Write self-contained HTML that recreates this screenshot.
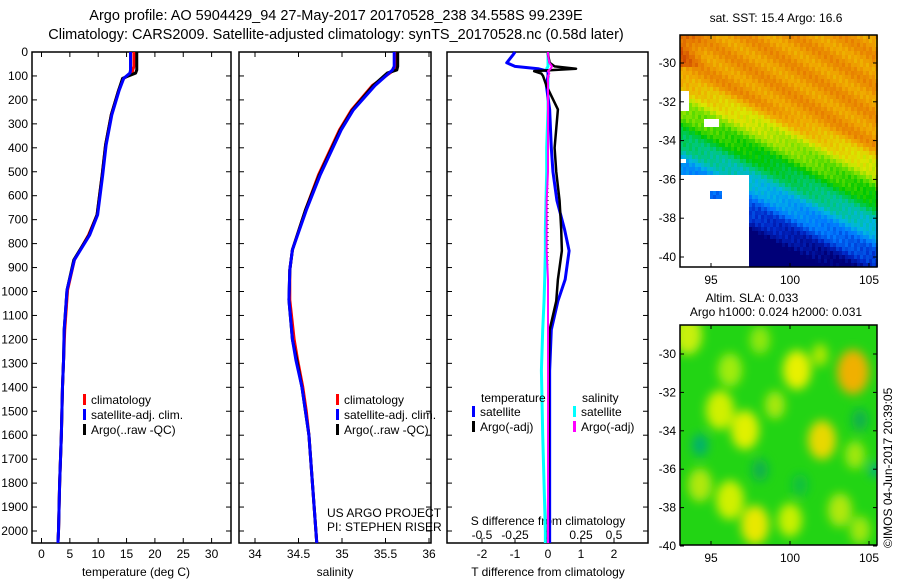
<!DOCTYPE html>
<html><head><meta charset="utf-8"><style>
body{margin:0;background:#fff}
svg text{font-family:"Liberation Sans",sans-serif;font-size:12px;fill:#000}
svg text.ttl{font-size:14.5px}
</style></head><body>
<svg id="s" width="900" height="580" xmlns="http://www.w3.org/2000/svg">
<defs><filter id="bl"><feGaussianBlur stdDeviation="5"/></filter>
<clipPath id="c2"><rect x="680" y="325" width="197" height="220"/></clipPath></defs>
<text class="ttl" x="336" y="20" text-anchor="middle">Argo profile: AO 5904429_94 27-May-2017 20170528_238 34.558S 99.239E</text>
<text class="ttl" x="336" y="39" text-anchor="middle">Climatology: CARS2009. Satellite-adjusted climatology: synTS_20170528.nc (0.58d later)</text>
<g id="g"></g>
<text x="776" y="22" text-anchor="middle">sat. SST: 15.4 Argo: 16.6</text>
<text x="752" y="302" text-anchor="middle">Altim. SLA: 0.033</text>
<text x="776" y="316" text-anchor="middle">Argo h1000: 0.024 h2000: 0.031</text>
<text transform="translate(892,548) rotate(-90)">©IMOS 04-Jun-2017 20:39:05</text>
<text x="327" y="517">US ARGO PROJECT</text>
<text x="327" y="531">PI: STEPHEN RISER</text>
</svg>
<script>
const depths=[0,60,75,88,110,160,263,388,513,680,764,868,994,1160,1280,1400,1500,1600,1800,2000,2050];
const tempClim=[16.3,16.3,16.1,16.0,14.5,13.6,12.3,11.3,10.7,9.8,8.3,5.8,4.6,4.1,3.9,3.7,3.6,3.5,3.2,3.0,2.9];
const tempSat=[15.7,15.7,15.7,15.6,14.5,13.7,12.4,11.4,10.8,9.9,8.5,5.8,4.5,4.0,3.9,3.7,3.6,3.5,3.2,3.0,2.9];
const tempArgo=[16.8,16.8,16.8,16.6,14.3,13.6,12.3,11.3,10.7,9.8,8.4,5.7,4.5,4.0,3.9,3.7,3.6,3.5,3.2,3.0,2.9];
const salDepths=[0,60,75,88,140,242,326,513,660,826,910,1035,1200,1286,1400,1500,1600,1800,2000,2050];
const salClim=[35.62,35.62,35.6,35.55,35.35,35.11,34.97,34.73,34.58,34.43,34.40,34.40,34.45,34.49,34.55,34.59,34.62,34.66,34.70,34.71];
const salSat=[35.6,35.6,35.58,35.54,35.38,35.13,34.99,34.75,34.59,34.43,34.40,34.39,34.43,34.47,34.54,34.58,34.62,34.66,34.70,34.71];
const salArgo=[35.64,35.64,35.63,35.52,35.36,35.12,34.98,34.74,34.58,34.43,34.40,34.39,34.43,34.48,34.54,34.58,34.62,34.66,34.70,34.71];
const diffDepths=[0,10,45,60,70,80,90,100,140,240,400,500,620,740,830,950,1040,1160,1330,1600,2000,2050];
const dTSat=[-1.0,-1.05,-1.25,-1.0,-0.3,0,0,0,-0.05,0.05,0.1,0.15,0.27,0.5,0.64,0.52,0.3,0.1,0.05,0.05,0.05,0.05];
const dTArgo=[0,0,0.05,0.2,0.85,-0.42,-0.2,-0.15,-0.05,0.3,0.2,0.25,0.35,0.4,0.42,0.3,0.25,0.05,0.02,0.02,0,0];
const dSSat=[0,0,0,0,-0.01,0,0,0,0,0,-0.01,-0.01,-0.015,-0.02,-0.02,-0.025,-0.03,-0.04,-0.05,-0.04,-0.02,-0.02];
const dSArgo=[0,0,0.01,0.03,0.02,0,0.01,0,0,0,0,0,-0.01,-0.01,-0.01,0,0,0,0,0,0,0];
const depthTicks=[0,100,200,300,400,500,600,700,800,900,1000,1100,1200,1300,1400,1500,1600,1700,1800,1900,2000];
const tTicks=[0,5,10,15,20,25,30];
const sTicks=[34,34.5,35,35.5,36];
const dTTicks=[-2,-1,0,1,2];
const dSTicks=[-0.5,-0.25,0,0.25,0.5];
const lonTicks=[95,100,105];
const latTicks=[-30,-32,-34,-36,-38,-40];

const NS="http://www.w3.org/2000/svg",G=document.getElementById('g');
function mk(t,a,p){const e=document.createElementNS(NS,t);for(const k in a)e.setAttribute(k,a[k]);(p||G).appendChild(e);return e;}
const Y=d=>52+d*0.2395;
const xT=v=>41.5+v*5.67, xS=v=>255+(v-34)*87, xDT=v=>548+v*33, xDS=v=>548+v*132;
function frame(x0,x1,y0,y1,name){const r=mk('rect',{x:x0,y:y0,width:x1-x0,height:y1-y0,fill:'none',stroke:'#000','stroke-width':1.5});}
function line(xs,ds,fx,col,w,name){const p=mk('polyline',{points:xs.map((v,i)=>fx(v)+','+Y(ds[i])).join(' '),fill:'none',stroke:col,'stroke-width':w,'stroke-linejoin':'round'});}
function txt(x,y,s,anc){const t=mk('text',{x:x,y:y,'text-anchor':anc||'start'});t.textContent=s;return t;}
const panels=[[32,231],[239,431],[447,648]];
panels.forEach((p,i)=>{frame(p[0],p[1],52,543,'profile-panel-'+(i+1));
 depthTicks.forEach(d=>{mk('line',{x1:p[0],x2:p[0]+5,y1:Y(d),y2:Y(d),stroke:'#000'});mk('line',{x1:p[1],x2:p[1]-5,y1:Y(d),y2:Y(d),stroke:'#000'});});});
depthTicks.forEach(d=>{const t=txt(28,Y(d)+4,String(d),'end');});
tTicks.forEach(v=>{mk('line',{x1:xT(v),x2:xT(v),y1:52,y2:57,stroke:'#000'});mk('line',{x1:xT(v),x2:xT(v),y1:543,y2:538,stroke:'#000'});const t=txt(xT(v),558,String(v),'middle');});
sTicks.forEach(v=>{mk('line',{x1:xS(v),x2:xS(v),y1:52,y2:57,stroke:'#000'});mk('line',{x1:xS(v),x2:xS(v),y1:543,y2:538,stroke:'#000'});const t=txt(xS(v),558,String(v),'middle');});
dTTicks.forEach(v=>{mk('line',{x1:xDT(v),x2:xDT(v),y1:543,y2:538,stroke:'#000'});const t=txt(xDT(v),558,String(v),'middle');});
dSTicks.forEach(v=>{const t=txt(xDS(v),539,String(v),'middle');});
[[136,'temperature (deg C)'],[335,'salinity'],[548,'T difference from climatology']].forEach(a=>{const t=txt(a[0],576,a[1],'middle');});
{const t=txt(548,525,'S difference from climatology','middle');}
line(tempClim,depths,xT,'#f00',3,'temp-climatology');line(tempArgo,depths,xT,'#000',3,'temp-argo');line(tempSat,depths,xT,'#00f',3,'temp-satellite');
line(salClim,salDepths,xS,'#f00',3,'sal-climatology');line(salArgo,salDepths,xS,'#000',3,'sal-argo');line(salSat,salDepths,xS,'#00f',3,'sal-satellite');
mk('line',{x1:548,x2:548,y1:52,y2:543,stroke:'#000','stroke-dasharray':'1,3'});
line(dSSat,diffDepths,xDS,'#0ff',3,'ds-satellite');line(dTSat,diffDepths,xDT,'#00f',3,'dt-satellite');line(dTArgo,diffDepths,xDT,'#000',2.5,'dt-argo');line(dSArgo,diffDepths,xDS,'#f0f',2,'ds-argo');
function legend(x,y,items){items.forEach((it,i)=>{mk('rect',{x:x,y:y+i*15-10,width:3,height:11,fill:it[0]});const t=txt(x+8,y+i*15,it[1]);});}
legend(83,404,[['#f00','climatology'],['#00f','satellite-adj. clim.'],['#000','Argo(..raw -QC)']]);
legend(336,404,[['#f00','climatology'],['#00f','satellite-adj. clim.'],['#000','Argo(..raw -QC)']]);
txt(481,402,'temperature');txt(582,402,'salinity');
legend(472,416,[['#00f','satellite'],['#000','Argo(-adj)']]);
legend(573,416,[['#0ff','satellite'],['#f0f','Argo(-adj)']]);
// maps
const mx=lon=>711+(lon-95)*15.8, my1=lat=>63+(-30-lat)*19.4, my2=lat=>354+(-30-lat)*19.2;
const pal=[[0,0,120],[0,40,200],[0,120,255],[0,180,230],[0,200,120],[0,200,0],[120,225,0],[220,230,0],[240,170,0],[230,120,0],[200,60,0],[170,0,0]];
function cmap(v){v=Math.max(0,Math.min(0.999,v))*(pal.length-1);const i=Math.floor(v),f=v-i,a=pal[i],b=pal[i+1];return `rgb(${a.map((c,k)=>Math.round(c+(b[k]-c)*f)).join(',')})`;}
const sst=mk('g',{});
for(let x=680;x<877;x+=3)for(let y=35;y<267;y+=4){const lon=95+(x-711)/15.8,lat=-30-(y-63)/19.4;
 const h=Math.sin(x*0.9+y*0.37)*0.02+Math.sin(x*0.13-y*0.21)*0.03;
 const s=-lat-0.3*(lon-95);
 let v=0.76-Math.max(0,s-31)*0.11+h;
 if(lat>-30.2&&lon<94.6)v+=0.1*(1-(lon-93)/1.6);
 let c=cmap(v);
 if((lon<97.4&&lat<-35.7&&!(lon>94.8&&lon<95.6&&lat>-37&&lat<-36.5))||(lon<93.6&&lat<-31.3&&lat>-32.3)||(lon>94.4&&lon<95.5&&lat<-32.7&&lat>-33.2)||(lon<93.4&&lat<-34.8&&lat>-35.0))c='#fff';
 mk('rect',{x:x,y:y,width:3,height:4,fill:c},sst);}
frame(680,877,35,267,'sst-map-frame');
const sla=mk('g',{'clip-path':'url(#c2)'});
mk('rect',{x:680,y:325,width:197,height:220,fill:'#22d414'},sla);
const blobs=mk('g',{filter:'url(#bl)'},sla);
[[688,335,14,'#c8f010'],[760,340,10,'#90e810'],[797,370,14,'#e8f000'],[853,372,16,'#f0b000'],[820,355,8,'#b0e800'],[730,370,12,'#a0ec10'],[720,410,14,'#d0f000'],[745,430,14,'#e0f000'],[775,405,10,'#a8e810'],[822,440,14,'#e8d800'],[855,455,10,'#a0e810'],[700,485,12,'#b0e810'],[730,500,14,'#d0f000'],[755,525,14,'#e8e800'],[790,520,12,'#c8f000'],[840,510,12,'#b0e810'],[860,530,10,'#a0e810'],[700,445,8,'#00b070'],[760,470,8,'#10b050'],[860,420,8,'#10b050'],[800,485,8,'#10c040'],[875,470,5,'#00a8a0']].forEach(b=>mk('ellipse',{cx:b[0],cy:b[1],rx:b[2],ry:b[2]*1.4,fill:b[3]},blobs));
frame(680,877,325,545,'sla-map-frame');
[[35,267,my1],[325,545,my2]].forEach(m=>{
 lonTicks.forEach(v=>{mk('line',{x1:mx(v),x2:mx(v),y1:m[0],y2:m[0]+4,stroke:'#000'});mk('line',{x1:mx(v),x2:mx(v),y1:m[1],y2:m[1]-4,stroke:'#000'});const t=txt(mx(v),m[1]+17,String(v),'middle');});
 latTicks.forEach(v=>{const y=m[2](v);mk('line',{x1:680,x2:684,y1:y,y2:y,stroke:'#000'});mk('line',{x1:877,x2:873,y1:y,y2:y,stroke:'#000'});const t=txt(676,y+4,String(v),'end');});});
</script>
</body></html>
